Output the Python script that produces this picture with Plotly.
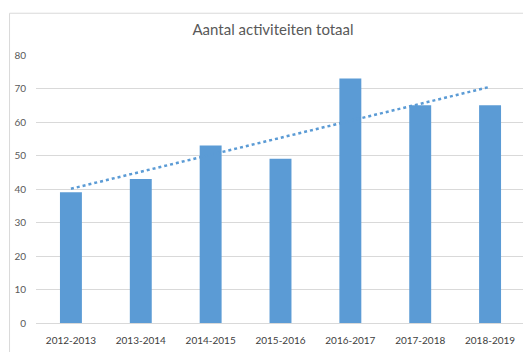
import numpy as np
import plotly.graph_objects as go

seasons = ["2012-2013", "2013-2014", "2014-2015", "2015-2016", "2016-2017", "2017-2018", "2018-2019"]
activities = [39, 43, 53, 49, 73, 65, 65]
y_ticks = [0, 10, 20, 30, 40, 50, 60, 70, 80]

# linear trendline (as in the Excel chart)
idx = np.arange(len(activities))
slope, intercept = np.polyfit(idx, activities, 1)
trend = (intercept + slope * idx).tolist()

BLUE = "#5B9BD5"
GRID = "#D9D9D9"
TXT = "#595959"

W, H = 523, 344  # page body has an 8px margin
L, R, T, B = 27, 6, 47, 21
PW, PH = W - L - R, H - T - B

fig = go.Figure()
fig.add_trace(go.Bar(x=seasons, y=activities, marker=dict(color=BLUE, line=dict(width=0)),
                     showlegend=False, hoverinfo="x+y"))
fig.add_trace(go.Scatter(x=seasons, y=trend, mode="lines",
                         line=dict(color=BLUE, width=2.5, dash="dot"),
                         showlegend=False, hoverinfo="skip"))

fig.update_layout(
    width=W, height=H,
    margin=dict(l=L, r=R, t=T, b=B, pad=0),
    paper_bgcolor="white", plot_bgcolor="white",
    bargap=0.686,
    title=dict(text="Aantal activiteiten totaal", x=265 / W, xanchor="center",
               y=1 - 22 / H, yanchor="middle", yref="container",
               font=dict(family="Lato", size=15, color=TXT)),
    font=dict(family="Lato", color=TXT),
    shapes=[dict(type="rect", xref="paper", yref="paper",
                 x0=(0.5 - L) / PW, x1=1.2, y0=-0.3, y1=(H - B - 4) / PH,
                 line=dict(color=GRID, width=1), fillcolor="rgba(0,0,0,0)", layer="below")],
)
fig.update_xaxes(type="category", showgrid=False, showline=True, linecolor=GRID, linewidth=1,
                 ticks="outside", ticklen=8, tickcolor="rgba(0,0,0,0)",
                 tickfont=dict(family="Lato", size=10, color="#404040"))
fig.update_yaxes(range=[0, 80], tickvals=y_ticks, showgrid=True, gridcolor=GRID, gridwidth=1,
                 zeroline=False, showline=False,
                 ticks="outside", ticklen=7, tickcolor="rgba(0,0,0,0)",
                 tickfont=dict(family="Lato", size=10, color=TXT))

fig.write_html("out.html")
